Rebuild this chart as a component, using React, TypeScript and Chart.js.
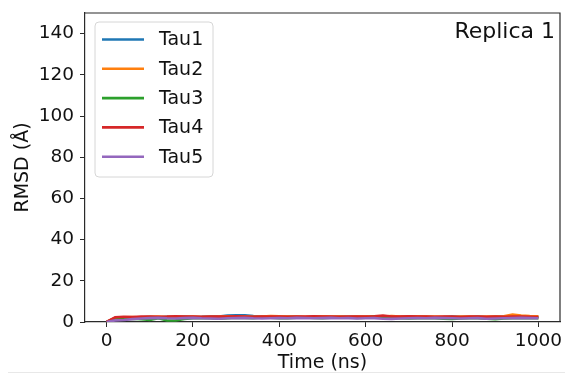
import React, { useEffect, useRef } from "react";
import { Chart, registerables } from "chart.js";

Chart.register(...registerables);

const times = [0, 20, 40, 60, 80, 100, 120, 140, 160, 180, 200, 220, 240, 260, 280, 300, 320, 340, 360, 380, 400, 420, 440, 460, 480, 500, 520, 540, 560, 580, 600, 620, 640, 660, 680, 700, 720, 740, 760, 780, 800, 820, 840, 860, 880, 900, 920, 940, 960, 980, 1000];

const tau1 = [0, 1.9, 2.2, 2.0, 2.3, 2.4, 2.2, 2.5, 2.3, 2.6, 2.4, 2.5, 2.7, 2.6, 3.1, 3.3, 3.2, 2.9, 2.7, 2.6, 2.4, 2.6, 2.5, 2.3, 2.5, 2.6, 2.4, 2.7, 2.5, 2.6, 2.4, 2.7, 2.6, 2.4, 2.5, 2.7, 2.6, 2.5, 2.3, 2.4, 2.6, 2.5, 2.4, 2.6, 2.3, 2.5, 2.6, 2.7, 2.6, 2.5, 2.4];
const tau2 = [0, 2.1, 2.3, 2.4, 2.2, 2.5, 2.6, 2.4, 2.7, 2.5, 2.6, 2.4, 2.5, 2.6, 2.8, 2.7, 2.6, 2.5, 2.7, 2.9, 2.8, 2.6, 2.7, 2.5, 2.6, 2.8, 2.7, 2.6, 2.5, 2.7, 2.6, 2.8, 2.6, 2.9, 2.7, 2.5, 2.8, 2.7, 2.6, 2.5, 2.4, 2.6, 2.7, 2.5, 2.6, 2.7, 2.8, 3.6, 3.1, 2.9, 2.8];
const tau3 = [0, 1.2, 1.4, 1.6, 1.3, 1.0, 1.8, 0.7, 0.8, 1.5, 1.9, 2.0, 1.8, 1.6, 1.9, 2.1, 2.0, 1.9, 2.2, 2.1, 1.8, 1.9, 2.1, 2.2, 2.0, 1.9, 2.1, 2.3, 2.2, 2.0, 2.1, 2.6, 2.3, 2.0, 1.8, 1.7, 1.9, 2.0, 1.8, 1.6, 1.5, 1.7, 1.9, 1.8, 1.6, 1.4, 1.7, 1.9, 1.8, 2.0, 1.9];
const tau4 = [0, 2.3, 2.5, 2.4, 2.6, 2.7, 2.5, 2.6, 2.8, 2.6, 2.7, 2.5, 2.6, 2.7, 2.6, 2.8, 2.7, 2.5, 2.6, 2.7, 2.6, 2.5, 2.7, 2.6, 2.8, 2.6, 2.7, 2.5, 2.6, 2.7, 2.6, 2.8, 3.1, 2.7, 2.6, 2.8, 2.7, 2.6, 2.5, 2.7, 2.6, 2.4, 2.6, 2.7, 2.5, 2.6, 2.5, 2.7, 2.6, 2.5, 2.4];
const tau5 = [0, 0.8, 1.0, 1.4, 1.7, 1.9, 2.0, 1.8, 1.7, 1.9, 2.0, 1.8, 1.7, 1.6, 1.8, 1.9, 2.0, 1.8, 1.7, 1.8, 1.9, 1.8, 2.0, 1.9, 1.8, 1.9, 2.0, 1.8, 1.9, 1.7, 1.8, 1.9, 1.6, 1.5, 1.7, 1.8, 1.9, 1.8, 2.0, 1.9, 1.8, 1.7, 1.8, 1.9, 1.6, 1.7, 1.8, 1.9, 2.0, 1.9, 1.8];

const seriesNames = ["Tau1", "Tau2", "Tau3", "Tau4", "Tau5"];
const seriesValues = [tau1, tau2, tau3, tau4, tau5];
const seriesColors = ["#1f77b4", "#ff7f0e", "#2ca02c", "#d62728", "#9467bd"];

const xTicks = [0, 200, 400, 600, 800, 1000];
const yTicks = [0, 20, 40, 60, 80, 100, 120, 140];
const xTitle = "Time (ns)";
const yTitle = "RMSD (Å)";
const panelLabel = "Replica 1";

const FONT = "'DejaVu Sans', sans-serif";
const AXIS_COLOR = "#2a2a2a";
const TEXT_COLOR = "#111111";

const overlayPlugin = {
  id: "overlay",
  afterDraw(chart: any) {
    const ctx = chart.ctx;
    const area = chart.chartArea;
    ctx.save();
    // Panel label
    ctx.font = `22px ${FONT}`;
    ctx.fillStyle = TEXT_COLOR;
    ctx.textAlign = "right";
    ctx.textBaseline = "alphabetic";
    ctx.fillText(panelLabel, area.right - 5, area.top + 25);

    // Legend box
    const bx = area.left + 10;
    const by = area.top + 9;
    const bw = 118;
    const bh = 155;
    const r = 4;
    ctx.beginPath();
    ctx.moveTo(bx + r, by);
    ctx.lineTo(bx + bw - r, by);
    ctx.quadraticCurveTo(bx + bw, by, bx + bw, by + r);
    ctx.lineTo(bx + bw, by + bh - r);
    ctx.quadraticCurveTo(bx + bw, by + bh, bx + bw - r, by + bh);
    ctx.lineTo(bx + r, by + bh);
    ctx.quadraticCurveTo(bx, by + bh, bx, by + bh - r);
    ctx.lineTo(bx, by + r);
    ctx.quadraticCurveTo(bx, by, bx + r, by);
    ctx.closePath();
    ctx.fillStyle = "rgba(255,255,255,0.8)";
    ctx.fill();
    ctx.strokeStyle = "#d6d6d6";
    ctx.lineWidth = 1;
    ctx.stroke();

    chart.data.datasets.forEach((ds: any, i: number) => {
      const cy = by + 17.5 + i * 29.3;
      ctx.beginPath();
      ctx.moveTo(bx + 7, cy);
      ctx.lineTo(bx + 49, cy);
      ctx.strokeStyle = ds.borderColor;
      ctx.lineWidth = 2.6;
      ctx.lineCap = "butt";
      ctx.stroke();
      ctx.fillStyle = TEXT_COLOR;
      ctx.textAlign = "left";
      ctx.textBaseline = "middle";
      ctx.font = `19px ${FONT}`;
      ctx.fillText(ds.label, bx + 64, cy + 1);
    });
    ctx.restore();
  },
};

export default function App() {
  const ref = useRef<HTMLCanvasElement>(null);

  useEffect(() => {
    if (!ref.current) return;
    const chart = new Chart(ref.current, {
      type: "line",
      data: {
        datasets: seriesNames.map((name, i) => ({
          label: name,
          data: times.map((t, j) => ({ x: t, y: seriesValues[i][j] })),
          borderColor: seriesColors[i],
          backgroundColor: seriesColors[i],
          borderWidth: 2.6,
          pointRadius: 0,
          tension: 0,
          fill: false,
          order: seriesNames.length - i,
        })),
      },
      options: {
        animation: false,
        responsive: false,
        devicePixelRatio: 1,
        layout: { padding: { left: 0, right: 5, top: 13, bottom: 0 } },
        plugins: {
          legend: { display: false },
          tooltip: { enabled: false },
          title: { display: false },
        },
        scales: {
          x: {
            type: "linear",
            min: -50,
            max: 1050,
            afterBuildTicks: (scale: any) => {
              scale.ticks = xTicks.map((v) => ({ value: v }));
            },
            afterFit: (scale: any) => {
              scale.height = 52;
              scale.paddingLeft = 0;
              scale.paddingRight = 0;
            },
            grid: {
              drawOnChartArea: false,
              drawTicks: true,
              tickLength: 5,
              tickColor: AXIS_COLOR,
              tickWidth: 1,
            },
            border: { display: true, color: AXIS_COLOR, width: 1.2 },
            ticks: {
              color: TEXT_COLOR,
              font: { family: FONT, size: 18.5 },
              padding: 3,
              maxRotation: 0,
              autoSkip: false,
              callback: (v: any) => String(v),
            },
            title: {
              display: true,
              text: xTitle,
              color: TEXT_COLOR,
              font: { family: FONT, size: 19 },
              padding: { top: 0, bottom: 0 },
            },
          },
          y: {
            type: "linear",
            min: 0,
            max: 150,
            afterBuildTicks: (scale: any) => {
              scale.ticks = yTicks.map((v) => ({ value: v }));
            },
            afterFit: (scale: any) => {
              scale.width = 85;
              scale.paddingTop = 0;
              scale.paddingBottom = 0;
            },
            grid: {
              drawOnChartArea: false,
              drawTicks: true,
              tickLength: 5,
              tickColor: AXIS_COLOR,
              tickWidth: 1,
            },
            border: { display: true, color: AXIS_COLOR, width: 1.2 },
            ticks: {
              color: TEXT_COLOR,
              font: { family: FONT, size: 18.5 },
              padding: 6,
              autoSkip: false,
              callback: (v: any) => String(v),
            },
            title: {
              display: true,
              text: yTitle,
              color: TEXT_COLOR,
              font: { family: FONT, size: 19 },
              padding: { top: 12, bottom: 0 },
            },
          },
        },
      },
      plugins: [
        overlayPlugin,
        {
          id: "frame",
          afterDraw(chart: any) {
            const { ctx, chartArea: a } = chart;
            ctx.save();
            ctx.strokeStyle = AXIS_COLOR;
            ctx.lineWidth = 1.2;
            ctx.beginPath();
            ctx.moveTo(a.left, a.top);
            ctx.lineTo(a.right, a.top);
            ctx.lineTo(a.right, a.bottom);
            ctx.stroke();
            ctx.restore();
          },
        },
      ],
    } as any);
    return () => chart.destroy();
  }, []);

  return (
    <div style={{ position: "absolute", left: 0, top: 0, width: 565, height: 374, background: "#fff", overflow: "hidden" }}>
      <canvas ref={ref} width={565} height={374} style={{ display: "block" }} />
      <div style={{ position: "absolute", left: 8, top: 372, width: 557, height: 2, background: "#fff", borderTop: "1px solid #e8e8e8", boxSizing: "border-box" }} />
    </div>
  );
}
